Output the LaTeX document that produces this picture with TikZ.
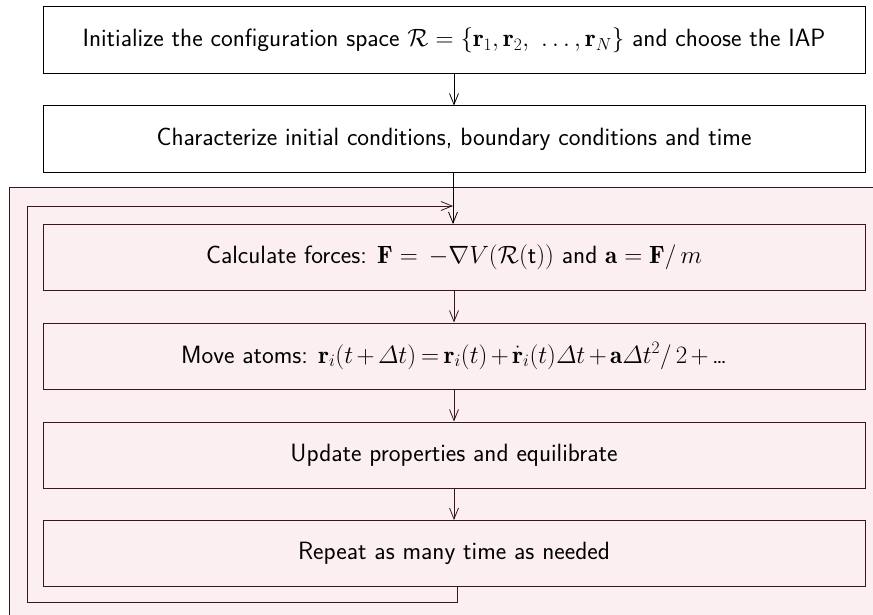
\documentclass[tikz,border=0pt]{standalone}
\usepackage{fix-cm}
\usepackage{amsmath}
\usepackage{fontspec}
\usetikzlibrary{arrows.meta}
\definecolor{pinkbg}{RGB}{252,239,241}
\definecolor{darkline}{RGB}{58,22,28}
\tikzset{
  plainbox/.style={draw=black, fill=white, line width=1pt, minimum width=822pt, minimum height=67pt, inner sep=0pt, font=\sffamily\fontsize{25}{30}\selectfont},
  loopbox/.style={draw=darkline, fill=pinkbg, line width=1pt, minimum width=822pt, minimum height=66pt, inner sep=0pt, font=\sffamily\fontsize{25}{30}\selectfont},
  flow/.style={line width=0.8pt, -{Straight Barb[length=11pt,width=9pt]}},
  loopline/.style={draw=darkline, line width=0.8pt, -{Straight Barb[length=11pt,width=9pt]}}
}
\begin{document}
\begin{tikzpicture}[x=1pt,y=-1pt]
\useasboundingbox (0,0) rectangle (873,615);
\begin{scope}
  \clip (0,0) rectangle (873,615);
  \draw[draw=darkline, fill=pinkbg, line width=1pt] (9,187) rectangle (900,640);
\end{scope}
\node[plainbox] (init) at (454,40.5) {Initialize the configuration space $\mathcal{R} = \{\mathbf{r}_1, \mathbf{r}_2,\ \ldots, \mathbf{r}_N\}$ and choose the IAP};
\node[plainbox] (cond) at (454,139.5) {Characterize initial conditions, boundary conditions and time};
\node[loopbox] (force) at (454,257.5) {Calculate forces: $\mathbf{F} = \,-\nabla V(\mathcal{R}(\mbox{t}))$ and $\mathbf{a} = \mathbf{F}/\,m$};
\node[loopbox] (move) at (454,356) {\medmuskip=2.5mu\thickmuskip=3.5mu Move atoms: $\mathbf{r}_i(t+\varDelta t) = \mathbf{r}_i(t) + \dot{\mathbf{r}}_i(t)\varDelta t + \mathbf{a}\varDelta t^2/\,2 +\mbox{\ldots}$};
\node[loopbox] (update) at (454,455) {Update properties and equilibrate};
\node[loopbox] (repeat) at (454,553.5) {Repeat as many time as needed};
\coordinate (lb) at (457,602);
\coordinate (lbl) at (27,602);
\coordinate (ltl) at (27,206);
\coordinate (lend) at (453,206);
\draw[flow] (init) -- (cond);
\draw[flow] (cond.south -| 453,0) -- (force.north -| 453,0);
\draw[flow, draw=darkline] (force) -- (move);
\draw[flow, draw=darkline] (move) -- (update);
\draw[flow, draw=darkline] (update) -- (repeat);
\draw[loopline] (repeat.south -| lb) -- (lb) -- (lbl) -- (ltl) -- (lend);
\end{tikzpicture}
\end{document}
